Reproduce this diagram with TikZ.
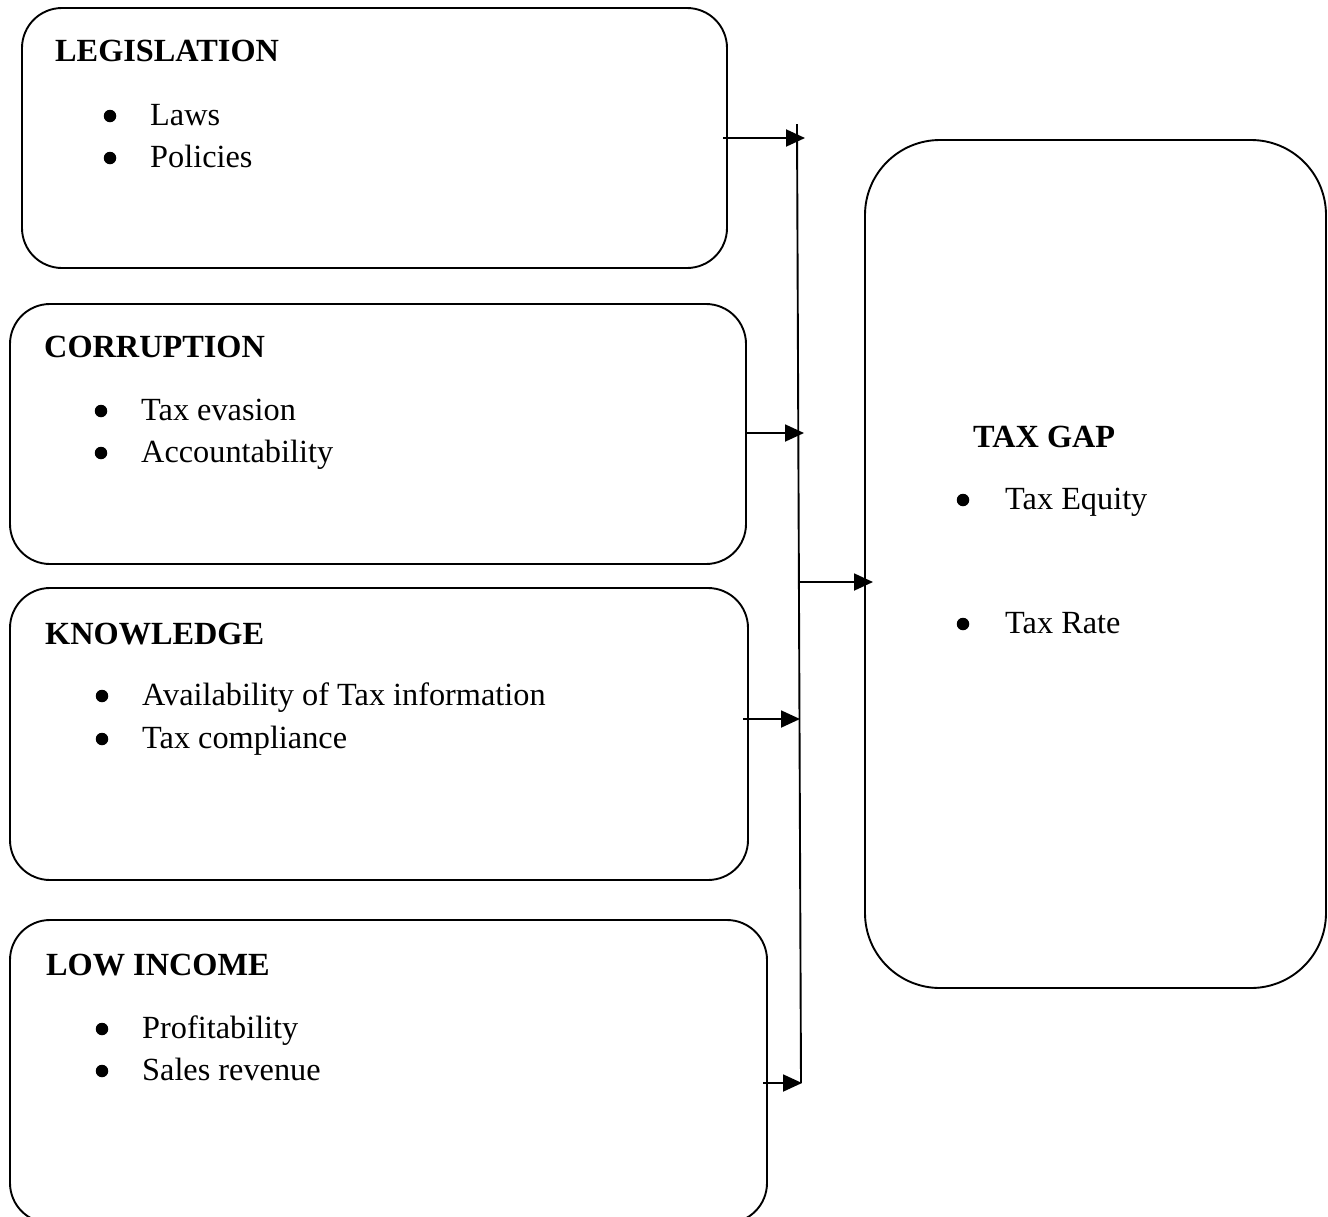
\documentclass[tikz,border=0pt]{standalone}
\usepackage{fontspec}
\setmainfont{Liberation Serif}
\usetikzlibrary{arrows.meta}
\newcommand\myfs{\fontsize{32.3}{38}\selectfont}
\begin{document}
\begin{tikzpicture}[x=1pt,y=-1pt,
  box/.style={draw, line width=1.9pt, rounded corners=40pt, inner sep=0pt, outer sep=0pt, rectangle},
  ttl/.style={anchor=base west, inner sep=0pt, font=\myfs\bfseries},
  itm/.style={anchor=base west, inner sep=0pt, font=\myfs},
  dot/.style={circle, fill=black, inner sep=0pt, minimum size=12.5pt},
  conn/.style={line width=1.9pt, -{Triangle[length=19pt,width=17pt]}}]
\useasboundingbox (0,0) rectangle (1328,1216);

% boxes
\node[box, minimum width=705pt, minimum height=260pt] (leg) at (374.5,138) {};
\node[box, minimum width=736pt, minimum height=260pt] (cor) at (378,434) {};
\node[box, minimum width=738pt, minimum height=292pt] (kno) at (379,734) {};
\node[box, minimum width=757pt, minimum height=303pt] (low) at (388.5,1071.5) {};
\node[box, rounded corners=75pt, minimum width=461pt, minimum height=848pt] (tax) at (1095.5,564) {};

% LEGISLATION
\node[ttl] (legt) at (55,61) {LEGISLATION};
\node[dot] (legb1) at (110,116) {};
\node[itm] (legi1) at (150,125) {Laws};
\node[dot] (legb2) at (110,158) {};
\node[itm] (legi2) at (150,167) {Policies};

% CORRUPTION
\node[ttl] (cort) at (44,357) {CORRUPTION};
\node[dot] (corb1) at (101,411) {};
\node[itm] (cori1) at (141,420) {Tax evasion};
\node[dot] (corb2) at (101,453) {};
\node[itm] (cori2) at (141,462) {Accountability};

% KNOWLEDGE
\node[ttl] (knot) at (45,644) {KNOWLEDGE};
\node[dot] (knob1) at (102,696) {};
\node[itm] (knoi1) at (142,705) {Availability of Tax information};
\node[dot] (knob2) at (102,739) {};
\node[itm] (knoi2) at (142,748) {Tax compliance};

% LOW INCOME
\node[ttl] (lowt) at (46,975) {LOW INCOME};
\node[dot] (lowb1) at (102,1029) {};
\node[itm] (lowi1) at (142,1038) {Profitability};
\node[dot] (lowb2) at (102,1071) {};
\node[itm] (lowi2) at (142,1080) {Sales revenue};

% TAX GAP
\node[ttl] (taxt) at (973,447) {TAX GAP};
\node[dot] (taxb1) at (963,500) {};
\node[itm] (taxi1) at (1005,509) {Tax Equity};
\node[dot] (taxb2) at (963,624) {};
\node[itm] (taxi2) at (1005,633) {Tax Rate};

% connectors
\coordinate (vtop) at (797,124);
\coordinate (vbot) at (801,1083);
\coordinate (t1) at (805,138);
\coordinate (t2) at (804,433);
\coordinate (t3) at (800,719);
\coordinate (t4) at (802,1083);
\coordinate (m0) at (798,582);
\draw[line width=1.9pt] (vtop) -- (vbot);
\draw[conn] ([xshift=-4pt]leg.east |- t1) -- (t1);
\draw[conn] (cor.east |- t2) -- (t2);
\draw[conn] ([xshift=-5pt]kno.east |- t3) -- (t3);
\draw[conn] ([xshift=-4pt]low.east |- t4) -- (t4);
\draw[conn] (m0) -- ([xshift=8pt]tax.west |- m0);
\end{tikzpicture}
\end{document}
